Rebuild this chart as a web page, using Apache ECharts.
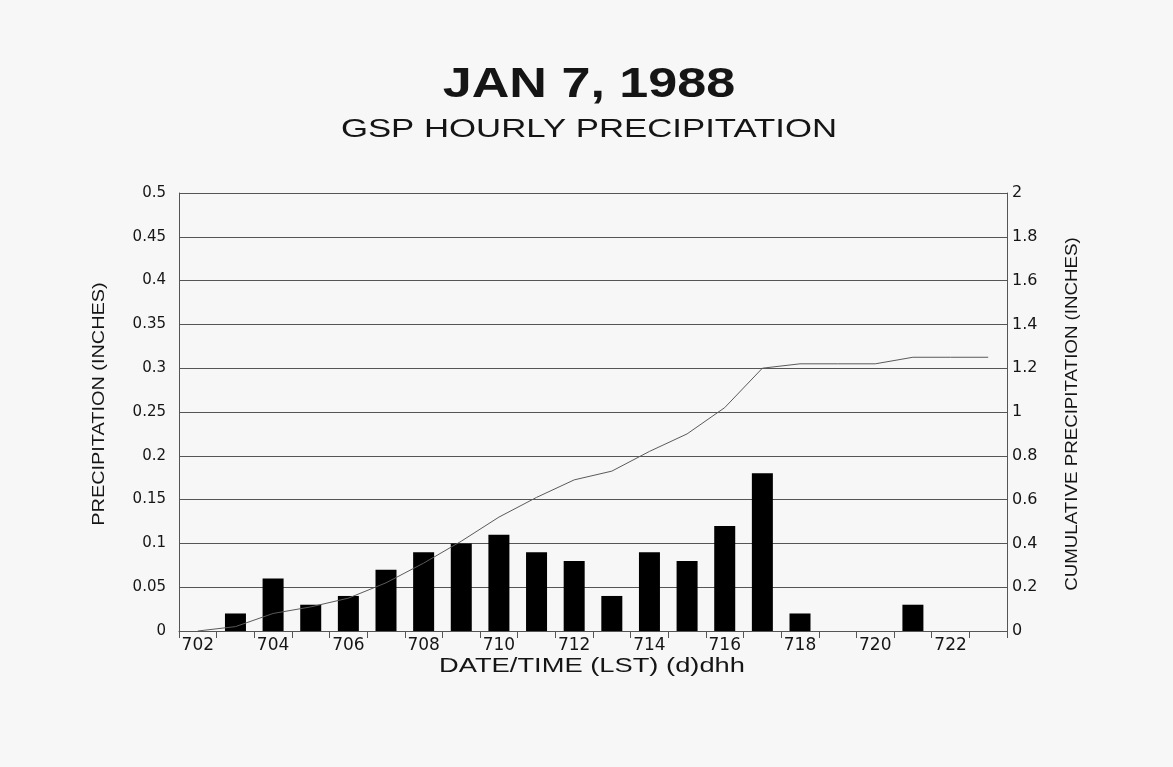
<!DOCTYPE html>
<html>
<head>
<meta charset="utf-8">
<script src="https://cdn.jsdelivr.net/npm/echarts@6/dist/echarts.min.js"></script>
<style>
  html, body { margin: 0; padding: 0; background: #f7f7f7; }
  #chart { width: 1173px; height: 767px; }
</style>
</head>
<body>
<div id="chart"></div>
<script>
// hour labels (day 7, hours 02..23)
var hours = ["702", "703", "704", "705", "706", "707", "708", "709", "710", "711", "712",
  "713", "714", "715", "716", "717", "718", "719", "720", "721", "722", "723"];
// hourly precipitation (inches)
var hourly = [0, 0.02, 0.06, 0.03, 0.04, 0.07, 0.09, 0.10, 0.11, 0.09, 0.08,
  0.04, 0.09, 0.08, 0.12, 0.18, 0.02, 0, 0, 0.03, 0, 0];
// cumulative precipitation (inches)
var cumulative = [0, 0.02, 0.08, 0.11, 0.15, 0.22, 0.31, 0.41, 0.52, 0.61, 0.69,
  0.73, 0.82, 0.90, 1.02, 1.20, 1.22, 1.22, 1.22, 1.25, 1.25, 1.25];

var myChart = echarts.init(document.getElementById("chart"));
var font = "Liberation Sans, Arial, sans-serif";
var tickFont = "DejaVu Sans, Liberation Sans, sans-serif";
var ink = "#151515";
var gridLine = "#555555";

// the scanned original has horizontally stretched lettering, so the
// headings are drawn as graphic text with a scaleX
function label(text, x, y, size, weight, sx, rot) {
  return {
    type: "text",
    x: x,
    y: y,
    scaleX: sx,
    rotation: rot || 0,
    silent: true,
    style: {
      text: text,
      font: weight + " " + size + "px " + font,
      fill: ink,
      textAlign: "center",
      textVerticalAlign: "middle"
    }
  };
}

var option = {
  backgroundColor: "#f7f7f7",
  animation: false,
  textStyle: { fontFamily: tickFont, color: ink },
  graphic: [
    label("JAN 7, 1988", 589, 85, 42, "bold", 1.24),
    label("GSP HOURLY PRECIPITATION", 589, 130, 25, "normal", 1.39),
    label("DATE/TIME (LST) (d)dhh", 592, 666, 21, "normal", 1.3),
    label("PRECIPITATION (INCHES)", 99, 404, 17, "normal", 1.17, Math.PI / 2),
    label("CUMULATIVE PRECIPITATION (INCHES)", 1073, 414, 16, "normal", 1.17, Math.PI / 2)
  ],
  grid: {
    left: 179,
    right: 166,
    top: 193,
    bottom: 136,
    containLabel: false
  },
  xAxis: {
    type: "category",
    data: hours,
    boundaryGap: true,
    axisLine: { show: true, lineStyle: { color: gridLine, width: 1 } },
    axisTick: { show: true, interval: 0, length: 7, lineStyle: { color: gridLine } },
    axisLabel: { interval: 1, fontFamily: tickFont, fontSize: 17, color: ink, margin: 6 },
    splitLine: { show: false }
  },
  yAxis: [
    {
      type: "value",
      min: 0,
      max: 0.5,
      interval: 0.05,
      axisLine: { show: true, lineStyle: { color: gridLine, width: 1 } },
      axisTick: { show: false },
      axisLabel: {
        fontFamily: tickFont, fontSize: 15, color: ink, margin: 13,
        formatter: function (v) { return String(Math.round(v * 100) / 100); }
      },
      splitLine: { show: true, lineStyle: { color: gridLine, width: 1 } }
    },
    {
      type: "value",
      min: 0,
      max: 2,
      interval: 0.2,
      axisLine: { show: true, lineStyle: { color: gridLine, width: 1 } },
      axisTick: { show: false },
      axisLabel: {
        fontFamily: tickFont, fontSize: 16, color: ink, margin: 5,
        formatter: function (v) { return String(Math.round(v * 10) / 10); }
      },
      splitLine: { show: false }
    }
  ],
  series: [
    {
      name: "Hourly",
      type: "bar",
      yAxisIndex: 0,
      data: hourly,
      barWidth: 21,
      itemStyle: { color: "#000000" }
    },
    {
      name: "Cumulative",
      type: "line",
      yAxisIndex: 1,
      data: cumulative,
      symbol: "none",
      lineStyle: { color: "#5a5a5a", width: 1 }
    }
  ]
};
myChart.setOption(option);
</script>
</body>
</html>
